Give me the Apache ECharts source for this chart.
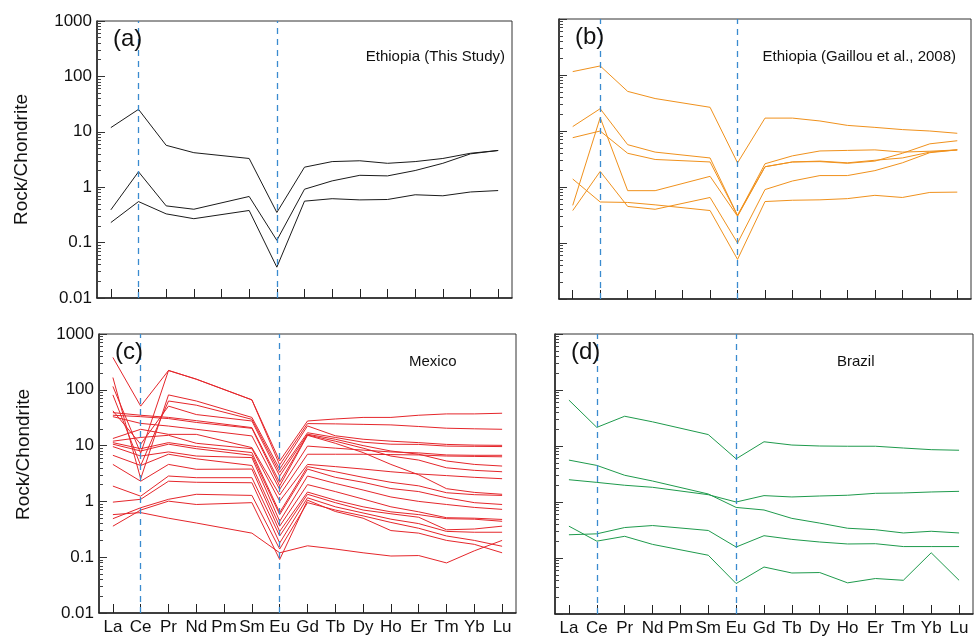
<!DOCTYPE html>
<html>
<head>
<meta charset="utf-8">
<script src="https://cdn.jsdelivr.net/npm/echarts@6/dist/echarts.min.js"></script>
<style>
  html, body { margin: 0; padding: 0; background: #fff; }
  #chart { width: 976px; height: 636px; }
</style>
</head>
<body>
<div id="chart"></div>
<script>
// REE order, Pm has no data (lines connect Nd -> Sm)
const elements = ['La', 'Ce', 'Pr', 'Nd', 'Pm', 'Sm', 'Eu', 'Gd', 'Tb', 'Dy', 'Ho', 'Er', 'Tm', 'Yb', 'Lu'];

// (a) Ethiopia (This Study)
const ethiopiaThisStudy = [
  [11.9, 25.4, 5.7, 4.2, null, 3.3, 0.35, 2.3, 2.9, 3.0, 2.7, 2.9, 3.3, 4.1, 4.6],
  [0.39, 1.9, 0.46, 0.40, null, 0.68, 0.11, 0.92, 1.3, 1.64, 1.6, 2.0, 2.7, 4.0, 4.6],
  [0.23, 0.55, 0.33, 0.27, null, 0.38, 0.036, 0.56, 0.62, 0.59, 0.6, 0.73, 0.70, 0.82, 0.87]
];

// (b) Ethiopia (Gaillou et al., 2008)
const ethiopiaGaillou = [
  [115, 145, 51, 38, null, 26.5, 2.7, 17, 17, 15.1, 12.6, 11.6, 10.6, 10.0, 9.1],
  [12, 25, 5.7, 4.2, null, 3.3, 0.31, 2.3, 2.8, 2.9, 2.7, 3.0, 3.3, 4.2, 4.6],
  [7.6, 10, 4.0, 3.1, null, 2.8, 0.31, 2.6, 3.6, 4.4, 4.5, 4.6, 4.2, 4.35, 4.6],
  [0.47, 17.3, 0.86, 0.86, null, 1.55, 0.30, 2.3, 2.8, 2.84, 2.65, 2.9, 4.0, 5.9, 6.7],
  [1.39, 0.54, 0.53, 0.48, null, 0.38, 0.051, 0.55, 0.58, 0.59, 0.62, 0.71, 0.65, 0.80, 0.81],
  [0.38, 1.9, 0.45, 0.40, null, 0.65, 0.10, 0.9, 1.28, 1.6, 1.6, 1.96, 2.7, 4.1, 4.6]
];

// (c) Mexico
const mexico = [
  [380, 51, 222, 155, null, 66, 5.3, 27.6, 30, 32, 32, 35, 37, 37, 38],
  [115, 7.3, 222, 155, null, 66, 4.5, 24.8, 24.5, 24, 23.5, 22, 20.5, 20, 19.6],
  [166, 2.55, 81, 63, null, 32, 3.8, 22.5, 15, 13, 12, 11.3, 10.5, 10.2, 10.1],
  [81, 4.4, 63, 53, null, 29.6, 3.3, 17, 14, 11.5, 10.6, 10.5, 9.8, 9.7, 9.6],
  [42, 10.6, 51, 36, null, 27.6, 2.85, 16, 13, 10, 8, 7, 5.3, 4.6, 4.3],
  [39, 35, 32, 28, null, 21, 2.2, 15.5, 12, 9, 6.5, 5.5, 4.0, 3.6, 3.4],
  [35, 33, 30.5, 26, null, 20.4, 1.9, 15.3, 11, 7.5, 4.6, 3.0, 1.69, 1.45, 1.34],
  [33, 25, 22.4, 19.6, null, 14.9, 1.64, 9.8, 9.0, 8.3, 7.7, 7.4, 6.8, 6.7, 6.7],
  [13.4, 19.6, 15.9, 15.9, null, 9.2, 1.3, 7.0, 7.0, 7.0, 6.9, 6.8, 6.5, 6.4, 6.3],
  [12, 14, 15.3, 11, null, 8.8, 1.01, 4.6, 4.2, 3.8, 3.4, 3.1, 2.9, 2.7, 2.55],
  [11.3, 8.8, 11.3, 9.6, null, 7.5, 0.63, 4.2, 3.4, 2.7, 2.2, 1.9, 1.43, 1.32, 1.28],
  [10.6, 8, 10.6, 8.8, null, 6.7, 0.58, 3.8, 2.7, 2.2, 1.7, 1.5, 1.16, 0.95, 0.88],
  [9.6, 6.5, 7.7, 6.5, null, 6.1, 0.44, 2.85, 2.1, 1.6, 1.2, 1.0, 0.88, 0.78, 0.72],
  [6.7, 4.4, 7.0, 5.8, null, 4.4, 0.36, 2.0, 1.5, 1.1, 0.8, 0.65, 0.51, 0.5, 0.475],
  [4.6, 2.3, 4.6, 3.76, null, 3.8, 0.29, 1.47, 1.05, 0.8, 0.65, 0.58, 0.49, 0.48, 0.44],
  [1.88, 1.24, 2.85, 2.66, null, 2.66, 0.24, 1.34, 0.95, 0.7, 0.6, 0.52, 0.31, 0.32, 0.36],
  [0.97, 1.09, 2.3, 2.2, null, 2.16, 0.18, 1.16, 0.8, 0.62, 0.48, 0.4, 0.29, 0.28, 0.28],
  [0.49, 0.77, 1.09, 1.34, null, 1.28, 0.14, 0.95, 0.7, 0.55, 0.42, 0.33, 0.24, 0.2, 0.157],
  [0.36, 0.7, 1.01, 0.88, null, 0.95, 0.091, 1.05, 0.66, 0.5, 0.3, 0.27, 0.2, 0.17, 0.12],
  [0.58, 0.63, 0.5, 0.41, null, 0.27, 0.12, 0.16, 0.14, 0.12, 0.105, 0.107, 0.079, 0.13, 0.2]
];

// (d) Brazil
const brazil = [
  [66, 21.5, 34, 27, null, 16, 5.9, 11.9, 10.4, 10, 9.9, 9.9, 9.2, 8.6, 8.4],
  [5.6, 4.5, 3.0, 2.37, null, 1.39, 0.80, 0.72, 0.51, 0.42, 0.34, 0.32, 0.28, 0.30, 0.28],
  [2.5, 2.24, 1.99, 1.83, null, 1.35, 1.0, 1.30, 1.23, 1.28, 1.32, 1.43, 1.45, 1.51, 1.55],
  [0.26, 0.27, 0.35, 0.38, null, 0.31, 0.157, 0.25, 0.215, 0.193, 0.178, 0.18, 0.16, 0.16, 0.16],
  [0.37, 0.20, 0.244, 0.175, null, 0.112, 0.035, 0.069, 0.054, 0.055, 0.036, 0.043, 0.040, 0.124, 0.040]
];

const panels = [
  { tag: '(a)', data: ethiopiaThisStudy, color: '#1a1a1a',
    grid: { left: 97, top: 21, width: 415, height: 277 }, yLabels: true, xLabels: false },
  { tag: '(b)', data: ethiopiaGaillou, color: '#f0911c',
    grid: { left: 559, top: 19, width: 412, height: 280 }, yLabels: false, xLabels: false },
  { tag: '(c)', data: mexico, color: '#e5262b',
    grid: { left: 99, top: 334, width: 417, height: 279 }, yLabels: true, xLabels: true },
  { tag: '(d)', data: brazil, color: '#1e9a4c',
    grid: { left: 555, top: 334, width: 418, height: 280 }, yLabels: false, xLabels: true }
];

const fontFamily = 'Arial, "Liberation Sans", sans-serif';
const chart = echarts.init(document.getElementById('chart'));

// log tick labels as plain numbers: 0.01 ... 1000
function logLabel(v) {
  return v >= 1 ? String(Math.round(v)) : String(+v.toPrecision(1));
}

const grid = [], xAxis = [], yAxis = [], series = [], title = [];

panels.forEach((p, i) => {
  grid.push(Object.assign({ show: true, borderColor: '#333', borderWidth: 1, outerBoundsMode: 'none' }, p.grid));
  xAxis.push({
    type: 'category', gridIndex: i, data: elements, boundaryGap: true,
    axisLine: { show: true, lineStyle: { color: '#222', width: 1.5 } },
    axisTick: { show: true, inside: true, alignWithLabel: true, length: 9, interval: 0, lineStyle: { color: '#222', width: 1 } },
    axisLabel: { show: p.xLabels, interval: 0, margin: 6, color: '#111', fontSize: 17, fontFamily },
    splitLine: { show: false }
  });
  yAxis.push({
    type: 'log', logBase: 10, gridIndex: i, min: 0.01, max: 1000,
    name: p.yLabels ? 'Rock/Chondrite' : '',
    nameLocation: 'middle', nameGap: 66,
    nameTextStyle: { fontSize: 19, color: '#111', fontFamily, padding: i === 2 ? [0, 0, 0, 38] : 0 },
    axisLine: { show: true, lineStyle: { color: '#222', width: 1.5 } },
    axisTick: { show: true, inside: true, length: 8, lineStyle: { color: '#333' } },
    minorTick: { show: true, splitNumber: 9, length: 4, lineStyle: { color: '#444' } },
    axisLabel: { show: p.yLabels, margin: 5, color: '#111', fontSize: 17, fontFamily, formatter: logLabel },
    splitLine: { show: false }
  });
  p.data.forEach((row, k) => {
    const s = {
      type: 'line', xAxisIndex: i, yAxisIndex: i, data: row,
      connectNulls: true, symbol: 'none', silent: true,
      lineStyle: { color: p.color, width: 1 }, z: 3
    };
    if (k === 0) {
      s.markLine = {
        silent: true, symbol: 'none', label: { show: false },
        lineStyle: { color: '#3a8bcf', type: [6, 5], width: 1.3 },
        data: [{ xAxis: 'Ce' }, { xAxis: 'Eu' }]
      };
    }
    series.push(s);
  });
  title.push({
    text: p.tag, left: p.grid.left + 16, top: p.grid.top + 6,
    textStyle: { fontSize: 24, fontWeight: 'normal', color: '#111', fontFamily }
  });
});

const noteStyle = { fontSize: 15, fontWeight: 'normal', color: '#111', fontFamily };
title.push(
  { text: 'Ethiopia (This Study)', right: 976 - 505, top: 49, textStyle: noteStyle },
  { text: 'Ethiopia (Gaillou et al., 2008)', right: 976 - 956, top: 49, textStyle: noteStyle },
  { text: 'Mexico', left: 409, top: 354, textStyle: noteStyle },
  { text: 'Brazil', left: 837, top: 354, textStyle: noteStyle }
);
title.forEach(t => { t.padding = 0; });

chart.setOption({
  animation: false,
  backgroundColor: '#fff',
  title, grid, xAxis, yAxis, series
});
</script>
</body>
</html>
